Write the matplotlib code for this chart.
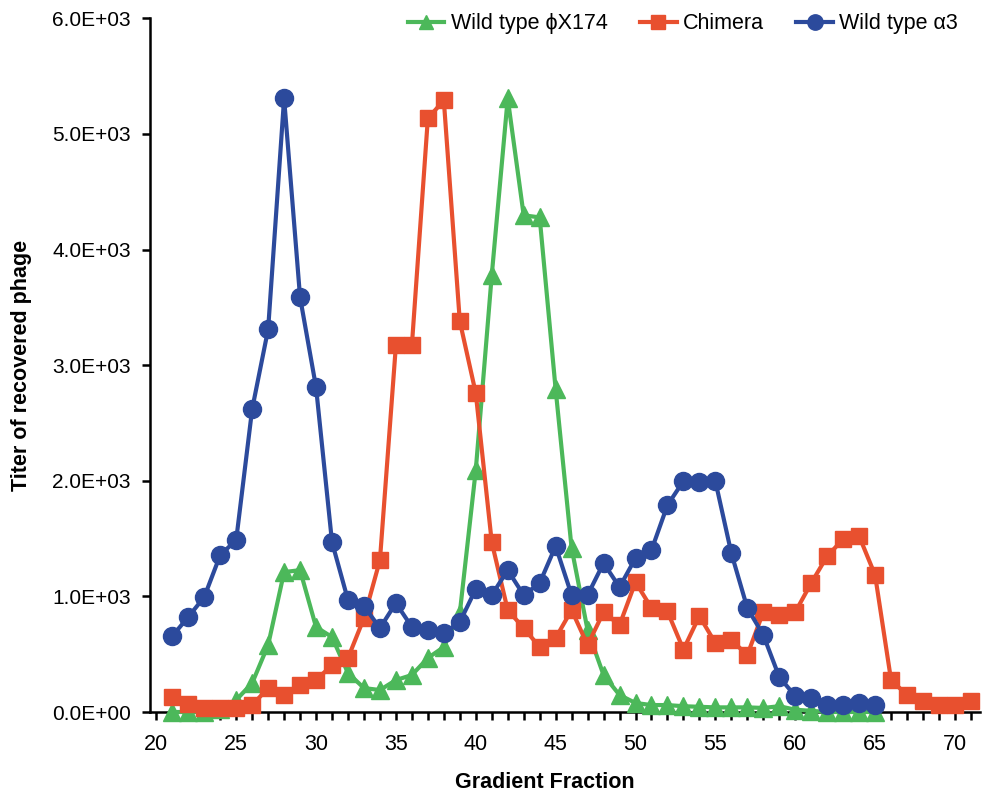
import matplotlib
matplotlib.use("Agg")
import matplotlib.pyplot as plt
from matplotlib.ticker import MultipleLocator, FuncFormatter

plt.rcParams['font.family'] = ['Liberation Sans', 'DejaVu Sans']

# Data
fractions_wt = list(range(21, 66))
wt_phix174 = [0, 0, 0, 30, 104, 250, 579, 1210, 1227, 735,
              648, 337, 207, 190, 276, 320, 467, 562, 856, 2092,
              3777, 5307, 4296, 4278, 2792, 1417, 709, 320, 147, 78,
              60, 60, 50, 45, 40, 40, 40, 35, 50, 20,
              10, 0, 0, 0, 0]

fractions_chimera = list(range(21, 72))
chimera = [130, 69, 35, 35, 35, 60, 207, 147, 233, 276,
           406, 467, 812, 1314, 3172, 3172, 5134, 5290, 3380, 2757,
           1469, 882, 726, 562, 640, 882, 579, 864, 752, 1124,
           899, 870, 540, 830, 596, 622, 493, 864, 838, 864,
           1115, 1348, 1495, 1521, 1184, 276, 147, 95, 60, 60,
           95]

fractions_a3 = list(range(21, 66))
wt_alpha3 = [657, 822, 994, 1357, 1487, 2619, 3310, 5307, 3587, 2809,
             1469, 968, 916, 726, 942, 735, 709, 683, 778, 1063,
             1011, 1227, 1011, 1115, 1435, 1011, 1011, 1288, 1080, 1331,
             1400, 1789, 1997, 1990, 1997, 1374, 899, 666, 303, 138,
             118, 60, 60, 75, 60]

labels = ["Wild type \u03d5X174", "Chimera", "Wild type \u03b13"]
colors = ["#4CB85A", "#E8502F", "#2C4A9C"]

fig = plt.figure(figsize=(9.82, 7.95), dpi=100)
ax = fig.add_axes([0.153, 0.1044, 0.845, 0.8726])

ax.plot(fractions_wt, wt_phix174, color=colors[0], marker='^', markersize=12.5,
        linewidth=3, label=labels[0], zorder=3, clip_on=False)
ax.plot(fractions_chimera, chimera, color=colors[1], marker='s', markersize=11.5,
        linewidth=3, label=labels[1], zorder=3, clip_on=False)
ax.plot(fractions_a3, wt_alpha3, color=colors[2], marker='o', markersize=13,
        linewidth=3, label=labels[2], zorder=4, clip_on=False)

ax.set_xlim(19.62, 71.57)
ax.set_ylim(0, 6000)
ax.xaxis.set_major_locator(MultipleLocator(5))
ax.xaxis.set_minor_locator(MultipleLocator(1))
ax.yaxis.set_major_locator(MultipleLocator(1000))
ax.yaxis.set_major_formatter(FuncFormatter(lambda v, p: ("%.1E" % v)))

for s in ['top', 'right']:
    ax.spines[s].set_visible(False)
for s in ['left', 'bottom']:
    ax.spines[s].set_linewidth(1.8)
    ax.spines[s].set_color('black')

ax.tick_params(axis='x', which='both', direction='out', length=6, width=1.8,
               labelsize=15.5, pad=10)
ax.tick_params(axis='y', which='major', direction='out', length=6, width=1.8,
               labelsize=15, pad=8)

ax.set_xlabel("Gradient Fraction", fontsize=15.5, fontweight='bold')
ax.set_ylabel("Titer of recovered phage", fontsize=15.5, fontweight='bold')
ax.xaxis.set_label_coords(0.475, -0.086)
ax.yaxis.set_label_coords(-0.142, 0.5)

leg = ax.legend(loc='upper right', bbox_to_anchor=(0.997, 1.035), ncol=3,
                frameon=False, fontsize=15.5, handlelength=1.7, columnspacing=1.5,
                handletextpad=0.3, markerscale=0.85)

fig.savefig("out.png", dpi=100)
